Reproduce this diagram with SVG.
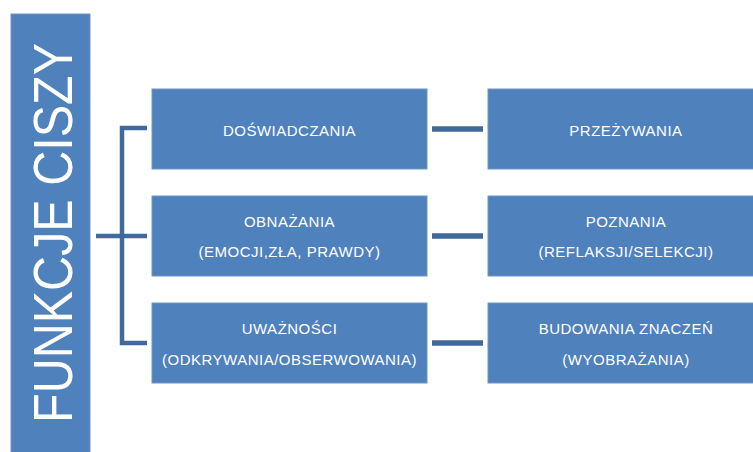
<svg xmlns="http://www.w3.org/2000/svg" width="753" height="452" viewBox="0 0 753 452">
<style>
.box{fill:#4f81bd;stroke:#6c95c8;stroke-width:1}
.lbl{font-family:"Liberation Sans",Arial,sans-serif;font-size:15px;fill:#ffffff;text-anchor:middle;letter-spacing:0.5px}
.title{font-family:"Liberation Sans",Arial,sans-serif;font-size:56px;fill:#ffffff;text-anchor:middle}
.conn{stroke:#41699b;fill:none;stroke-linecap:butt}
</style>
<rect width="753" height="452" fill="#ffffff"/>
<g id="root">
<rect class="box" x="11" y="14" width="79" height="445"/>
<text class="title" transform="translate(72,233) rotate(-90)" textLength="380" lengthAdjust="spacingAndGlyphs">FUNKCJE CISZY</text>
</g>
<g id="connectors">
<path class="conn" stroke-width="4.5" d="M147,128 H122 V343 H147"/>
<path class="conn" stroke-width="4.5" d="M96,236 H147"/>
<path class="conn" stroke-width="5.5" d="M432,129 H483"/>
<path class="conn" stroke-width="5.5" d="M432,236 H483"/>
<path class="conn" stroke-width="5.5" d="M432,343 H483"/>
</g>
<g id="n-doswiadczania">
<rect class="box" x="152" y="89" width="275" height="80"/>
<text class="lbl" x="289.5" y="136">DOŚWIADCZANIA</text>
</g>
<g id="n-obnazania">
<rect class="box" x="152" y="196" width="275" height="80"/>
<text class="lbl" x="289.5" y="227">OBNAŻANIA</text>
<text class="lbl" x="289.5" y="257">(EMOCJI,ZŁA, PRAWDY)</text>
</g>
<g id="n-uwaznosci">
<rect class="box" x="152" y="303" width="275" height="80"/>
<text class="lbl" x="289.5" y="334">UWAŻNOŚCI</text>
<text class="lbl" x="289.5" y="365">(ODKRYWANIA/OBSERWOWANIA)</text>
</g>
<g id="n-przezywania">
<rect class="box" x="488" y="89" width="280" height="80"/>
<text class="lbl" x="626" y="136">PRZEŻYWANIA</text>
</g>
<g id="n-poznania">
<rect class="box" x="488" y="196" width="280" height="80"/>
<text class="lbl" x="626" y="227">POZNANIA</text>
<text class="lbl" x="626" y="257">(REFLAKSJI/SELEKCJI)</text>
</g>
<g id="n-budowania">
<rect class="box" x="488" y="303" width="280" height="80"/>
<text class="lbl" x="626" y="334">BUDOWANIA ZNACZEŃ</text>
<text class="lbl" x="626" y="365">(WYOBRAŻANIA)</text>
</g>
</svg>
